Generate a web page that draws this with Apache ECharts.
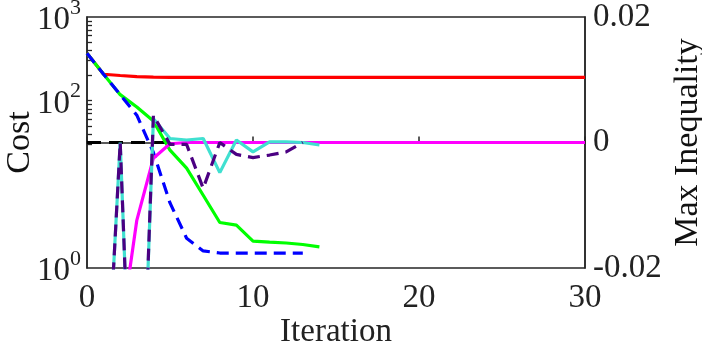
<!DOCTYPE html>
<html>
<head>
<meta charset="utf-8">
<script src="https://cdn.jsdelivr.net/npm/echarts@6/dist/echarts.min.js"></script>
<style>
  html, body { margin: 0; padding: 0; background: #fff; }
  #main { width: 702px; height: 344px; }
</style>
</head>
<body>
<div id="main"></div>
<script>
// iteration index for each series is its position in the array
var costRed = [369, 207, 200, 194, 191, 190, 190, 190, 190, 190, 190, 190, 190, 190, 190, 190,
  190, 190, 190, 190, 190, 190, 190, 190, 190, 190, 190, 190, 190, 190, 190];
var costGreen = [369, 207, 118, 84, 57, 25.6, 15.6, 7.4, 3.5, 3.26, 2.1, 2.04, 1.99, 1.91, 1.79];
var costBlue = [369, 207, 118, 67, 24, 6.0, 2.27, 1.6, 1.51, 1.51, 1.51, 1.51, 1.51, 1.51];
var ineqMagenta = [-0.06, -0.05, -0.031, -0.0124, -0.0025, -0.0002, 0, 0, 0, 0, 0, 0, 0, 0, 0, 0,
  0, 0, 0, 0, 0, 0, 0, 0, 0, 0, 0, 0, 0, 0, 0];
var ineqCyan = [-0.06, -0.05, 0, -0.07, 0.0038, 0.00064, 0.0004, 0.00064, -0.0048, 0.0004, -0.0015,
  0.0001, 0.0001, 0, -0.0004];
var ineqPurple = [-0.06, -0.05, 0, -0.07, 0.0043, -0.0003, -0.0003, -0.0073, 0, -0.0019, -0.0024,
  -0.002, -0.0015, 0];
var zeroX = [0, 5];
var zeroY = [0, 0];

var costLabels = [1, 100, 1000];
var costTicks = [100, 200, 300, 400, 500, 600, 700, 800, 900, 30, 40, 50, 60, 70, 80, 90];

function pairs(arr, xs) {
  return arr.map(function (v, i) { return [xs ? xs[i] : i, v]; });
}

var font = "Liberation Serif";
var frame = "#262626";
var fs = 33;
var lw = 3.2;

var myChart = echarts.init(document.getElementById("main"));
var option = {
  animation: false,
  textStyle: { fontFamily: font },
  grid: {
    left: 87, right: 117, top: 17, bottom: 76,
    outerBoundsMode: "none", containLabel: false,
    show: true, borderColor: frame, borderWidth: 1.5
  },
  xAxis: {
    type: "value",
    min: 0,
    max: 30,
    interval: 10,
    name: "Iteration",
    nameLocation: "middle",
    nameGap: 48,
    nameMoveOverlap: false,
    nameTextStyle: { fontSize: fs, color: "#222", fontFamily: font },
    axisLine: { lineStyle: { color: frame, width: 1.5 } },
    axisTick: { inside: true, length: 6, lineStyle: { color: frame, width: 1.5 } },
    axisLabel: { fontSize: fs, color: "#222", margin: 14, fontFamily: font },
    splitLine: { show: false }
  },
  yAxis: [
    {
      type: "log",
      min: 1,
      max: 1000,
      position: "left",
      name: "Cost",
      nameLocation: "middle",
      nameGap: 50,
      nameRotate: 90,
      nameMoveOverlap: false,
      nameTextStyle: { fontSize: 34, color: "#111", fontFamily: font },
      axisLine: { show: true, lineStyle: { color: frame, width: 1.5 } },
      axisTick: { show: false },
      axisLabel: {
        customValues: costLabels,
        margin: 6,
        color: "#222",
        fontFamily: font,
        formatter: function (v) {
          return "{b|10}{s|" + Math.round(Math.log10(v)) + "}";
        },
        rich: {
          b: { fontSize: fs, fontFamily: font, color: "#222", lineHeight: 40, verticalAlign: "bottom" },
          s: { fontSize: 22, fontFamily: font, color: "#222", lineHeight: 40, verticalAlign: "top" }
        }
      },
      splitLine: { show: false }
    },
    {
      type: "value",
      min: -0.02,
      max: 0.02,
      interval: 0.02,
      position: "right",
      name: "Max Inequality",
      nameLocation: "middle",
      nameGap: 86,
      nameRotate: 90,
      nameMoveOverlap: false,
      nameTextStyle: { fontSize: 34, color: "#111", fontFamily: font },
      axisLine: { show: true, lineStyle: { color: frame, width: 1.5 } },
      axisTick: { show: false },
      axisLabel: { fontSize: fs, color: "#222", margin: 8, fontFamily: font },
      splitLine: { show: false }
    },
    {
      // tick marks of the cost axis, on a linear axis in log10 space
      type: "value",
      min: 0,
      max: 3,
      position: "left",
      axisLine: { show: false },
      axisTick: {
        show: true, inside: true, length: 5,
        customValues: costTicks.map(function (v) { return Math.log10(v); }),
        lineStyle: { color: frame, width: 1.3 }
      },
      axisLabel: { show: false },
      splitLine: { show: false }
    }
  ],
  series: [
    {
      type: "line", yAxisIndex: 2, symbol: "none", silent: true,
      data: [], lineStyle: { opacity: 0 }
    },
    {
      type: "line", yAxisIndex: 1, symbol: "none", z: 1,
      data: pairs(zeroY, zeroX),
      lineStyle: { color: "#000", width: lw, type: [14, 8] }
    },
    {
      type: "line", yAxisIndex: 0, symbol: "none", z: 2,
      data: pairs(costRed),
      lineStyle: { color: "#ff0000", width: lw }
    },
    {
      type: "line", yAxisIndex: 0, symbol: "none", z: 3,
      data: pairs(costGreen),
      lineStyle: { color: "#00ff00", width: lw }
    },
    {
      type: "line", yAxisIndex: 0, symbol: "none", z: 4,
      data: pairs(costBlue),
      lineStyle: { color: "#0000ff", width: lw, type: [12, 7] }
    },
    {
      type: "line", yAxisIndex: 1, symbol: "none", z: 5,
      data: pairs(ineqMagenta),
      lineStyle: { color: "#ff00ff", width: lw }
    },
    {
      type: "line", yAxisIndex: 1, symbol: "none", z: 6,
      data: pairs(ineqCyan),
      lineStyle: { color: "#40e0d0", width: lw }
    },
    {
      type: "line", yAxisIndex: 1, symbol: "none", z: 7,
      data: pairs(ineqPurple),
      lineStyle: { color: "#4b0082", width: lw, type: [12, 7] }
    }
  ]
};
myChart.setOption(option);
</script>
</body>
</html>
